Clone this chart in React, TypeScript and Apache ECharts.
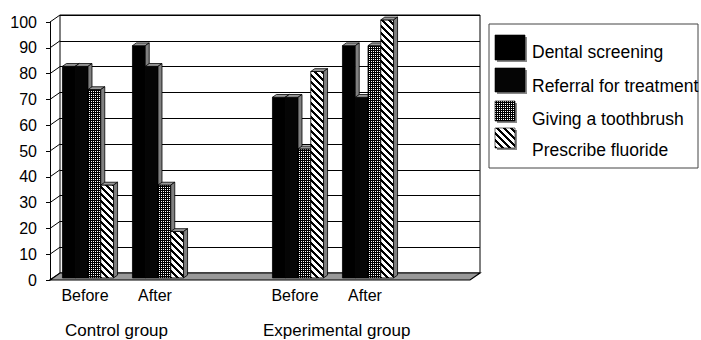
import React, { useEffect, useRef } from 'react';
import * as echarts from 'echarts';

const categories = ['Before', 'After', '', 'Before', 'After', ''];
const groupLabels = ['Control group', 'Experimental group'];
const seriesNames = ['Dental screening', 'Referral for treatment', 'Giving a toothbrush', 'Prescribe fluoride'];
const dentalScreening = [82, 90, null, 70, 90, null];
const referralForTreatment = [82, 82, null, 70, 70, null];
const givingToothbrush = [73, 36, null, 50, 90, null];
const prescribeFluoride = [36, 18, null, 80, 100, null];
const yTicks = [0, 10, 20, 30, 40, 50, 60, 70, 80, 90, 100];

const FONT = 'Liberation Sans, Arial, Helvetica, sans-serif';
const DEPTH_X = 10;
const DEPTH_Y = -7;
const FRONT = 0.3;
const BACK = 0.7;

function makeDots(): HTMLCanvasElement {
  const c = document.createElement('canvas');
  c.width = 4; c.height = 4;
  const g = c.getContext('2d')!;
  g.fillStyle = '#000'; g.fillRect(0, 0, 4, 4);
  g.fillStyle = '#fff';
  g.fillRect(1, 1, 1, 1); g.fillRect(3, 3, 1, 1); g.fillRect(1, 3, 1, 1); g.fillRect(3, 1, 1, 1);
  return c;
}

function makeStripes(): HTMLCanvasElement {
  const n = 7;
  const c = document.createElement('canvas');
  c.width = n; c.height = n;
  const g = c.getContext('2d')!;
  const img = g.createImageData(n, n);
  for (let y = 0; y < n; y++) {
    for (let x = 0; x < n; x++) {
      const k = (((x - y) % n) + n) % n;
      const v = k < 4 ? 255 : 0;
      const o = (y * n + x) * 4;
      img.data[o] = v; img.data[o + 1] = v; img.data[o + 2] = v; img.data[o + 3] = 255;
    }
  }
  g.putImageData(img, 0, 0);
  return c;
}

export default function App() {
  const ref = useRef<HTMLDivElement>(null);
  useEffect(() => {
    if (!ref.current) return;
    const chart = echarts.init(ref.current, null, { renderer: 'svg' });
    const dots = makeDots();
    const stripes = makeStripes();
    const fills: any[] = [
      '#000000',
      '#050505',
      { image: dots, repeat: 'repeat', imageWidth: 4, imageHeight: 4 },
      { image: stripes, repeat: 'repeat', imageWidth: 7, imageHeight: 7 },
    ];
    const valueSets = [dentalScreening, referralForTreatment, givingToothbrush, prescribeFluoride];

    const barSeries = valueSets.map((vals, si) => ({
      type: 'custom',
      name: seriesNames[si],
      xAxisIndex: 0,
      yAxisIndex: 0,
      z: 5 + si,
      encode: { x: 0, y: 1 },
      data: vals.map((v, i) => (v == null ? null : [i, v])).filter((d) => d != null),
      renderItem: (params: any, api: any) => {
        const idx = api.value(0);
        const v = api.value(1);
        const band = api.size([1, 0])[0];
        const groupW = band * 0.73;
        const w = groupW / 4;
        const base = api.coord([idx, 0]);
        const top = api.coord([idx, v]);
        const x0 = base[0] - groupW / 2 + si * w + DEPTH_X * FRONT;
        const yb = base[1] + DEPTH_Y * FRONT;
        const yt = top[1] + DEPTH_Y * FRONT;
        const dx = DEPTH_X * (BACK - FRONT);
        const dy = DEPTH_Y * (BACK - FRONT);
        const line = { stroke: '#000', lineWidth: 0.8 };
        return {
          type: 'group',
          children: [
            { type: 'rect', shape: { x: x0, y: yt, width: w, height: yb - yt }, style: { fill: fills[si], ...line } },
            { type: 'polygon', shape: { points: [[x0, yt], [x0 + dx, yt + dy], [x0 + w + dx, yt + dy], [x0 + w, yt]] }, style: { fill: '#9a9a9a', ...line } },
            { type: 'polygon', shape: { points: [[x0 + w, yt], [x0 + w + dx, yt + dy], [x0 + w + dx, yb + dy], [x0 + w, yb]] }, style: { fill: '#808080', ...line } },
          ],
        };
      },
    }));

    const floorSeries = {
      type: 'custom',
      name: 'floor',
      xAxisIndex: 0,
      yAxisIndex: 0,
      z: 3,
      silent: true,
      data: [[0, 0]],
      renderItem: (params: any, api: any) => {
        const cs = params.coordSys;
        const yb = cs.y + cs.height;
        return {
          type: 'polygon',
          shape: { points: [[cs.x, yb], [cs.x + cs.width, yb], [cs.x + cs.width + DEPTH_X, yb + DEPTH_Y], [cs.x + DEPTH_X, yb + DEPTH_Y]] },
          style: { fill: '#999999', stroke: '#000', lineWidth: 1.2 },
        };
      },
    };

    const sideSeries = {
      type: 'custom',
      name: 'side',
      xAxisIndex: 0,
      yAxisIndex: 0,
      z: 2,
      silent: true,
      encode: { y: 1 },
      data: yTicks.map((t) => [0, t]),
      renderItem: (params: any, api: any) => {
        const cs = params.coordSys;
        const y = api.coord([0, api.value(1)])[1];
        return {
          type: 'line',
          shape: { x1: cs.x, y1: y, x2: cs.x + DEPTH_X, y2: y + DEPTH_Y },
          style: { stroke: '#000', lineWidth: 1 },
        };
      },
    };

    const legendItems: any[] = [];
    const iconSpec = [
      { x: 495, y: 35, w: 30, h: 25, ty: 52 },
      { x: 495, y: 68, w: 30, h: 24, ty: 86 },
      { x: 495, y: 101, w: 20, h: 20, ty: 119 },
      { x: 495, y: 128, w: 20, h: 20, ty: 150 },
    ];
    iconSpec.forEach((s, i) => {
      legendItems.push({ type: 'rect', z: 11, shape: { x: s.x + 2, y: s.y + 2, width: s.w, height: s.h }, style: { fill: '#888' } });
      legendItems.push({ type: 'rect', z: 12, shape: { x: s.x, y: s.y, width: s.w, height: s.h }, style: { fill: fills[i], stroke: '#000', lineWidth: 0.6 } });
      legendItems.push({ type: 'text', z: 12, x: 532, y: s.ty, style: { text: seriesNames[i], font: `17.5px ${FONT}`, fill: '#000', verticalAlign: 'middle', align: 'left' } });
    });

    chart.setOption({
      animation: false,
      backgroundColor: '#fff',
      grid: [
        { left: 50, top: 22, width: 420, height: 258, show: false },
        { left: 60, top: 15, width: 420, height: 258, show: true, borderColor: '#000', borderWidth: 1, backgroundColor: '#fff' },
      ],
      xAxis: [
        {
          type: 'category', gridIndex: 0, data: categories,
          axisLine: { show: false }, axisTick: { show: false },
          axisLabel: { interval: 0, margin: 7, fontSize: 16, fontFamily: FONT, color: '#000' },
        },
        { type: 'value', gridIndex: 1, show: false, min: 0, max: 1 },
      ],
      yAxis: [
        {
          type: 'value', gridIndex: 0, min: 0, max: 100, interval: 10,
          axisLine: { show: true, lineStyle: { color: '#000', width: 1 } },
          axisTick: { show: true, length: 4, inside: false, lineStyle: { color: '#000' } },
          axisLabel: { margin: 13, fontSize: 16, fontFamily: FONT, color: '#000' },
          splitLine: { show: false },
        },
        {
          type: 'value', gridIndex: 1, min: 0, max: 100, interval: 10,
          axisLine: { show: false }, axisTick: { show: false }, axisLabel: { show: false },
          splitLine: { show: true, lineStyle: { color: '#000', width: 1 } },
        },
      ],
      series: [sideSeries, floorSeries, ...barSeries],
      graphic: [
        { type: 'rect', shape: { x: 489, y: 24, width: 209, height: 144 }, style: { fill: '#fff', stroke: '#444', lineWidth: 1 }, z: 10 },
        ...legendItems,
        { type: 'text', x: 65, y: 330, z: 11, style: { text: groupLabels[0], font: `17px ${FONT}`, fill: '#000', verticalAlign: 'middle' } },
        { type: 'text', x: 263, y: 330, z: 11, style: { text: groupLabels[1], font: `17px ${FONT}`, fill: '#000', verticalAlign: 'middle' } },
      ],
    });
    return () => chart.dispose();
  }, []);
  return <div ref={ref} style={{ position: 'fixed', left: 0, top: 0, width: 701, height: 340 }} />;
}
